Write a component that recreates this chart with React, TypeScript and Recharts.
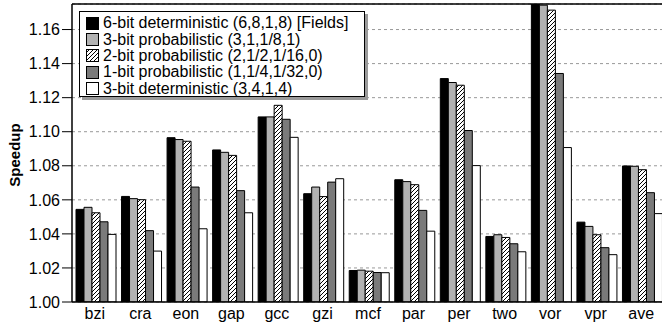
import React from 'react';
import { Bar, BarChart, CartesianGrid, ReferenceLine, XAxis, YAxis } from 'recharts';

const benchmarks = ['bzi', 'cra', 'eon', 'gap', 'gcc', 'gzi', 'mcf', 'par', 'per', 'two', 'vor', 'vpr', 'ave'];

const det6 = [1.0544, 1.062, 1.0965, 1.0893, 1.1087, 1.0636, 1.0185, 1.0718, 1.1312, 1.0385, 1.18, 1.0469, 1.0799];
const prob3 = [1.0556, 1.0607, 1.0954, 1.0879, 1.1087, 1.0675, 1.0187, 1.0707, 1.1289, 1.0395, 1.1743, 1.0444, 1.0797];
const prob2 = [1.0524, 1.0601, 1.0944, 1.0861, 1.1155, 1.0619, 1.0181, 1.0689, 1.1273, 1.0379, 1.1714, 1.0395, 1.0777];
const prob1 = [1.0471, 1.0419, 1.0675, 1.0654, 1.1073, 1.0704, 1.0173, 1.0538, 1.1007, 1.0342, 1.1342, 1.0319, 1.0642];
const det3 = [1.0397, 1.0299, 1.043, 1.0524, 1.0967, 1.0724, 1.0172, 1.0416, 1.0801, 1.0295, 1.0907, 1.0278, 1.0519];

const yTicks = [1.0, 1.02, 1.04, 1.06, 1.08, 1.1, 1.12, 1.14, 1.16];

const seriesInfo = [
  { key: 'det6', name: '6-bit deterministic (6,8,1,8) [Fields]', fill: '#000000' },
  { key: 'prob3', name: '3-bit probabilistic (3,1,1/8,1)', fill: '#b2b2b2' },
  { key: 'prob2', name: '2-bit probabilistic (2,1/2,1/16,0)', fill: 'url(#hatch)' },
  { key: 'prob1', name: '1-bit probabilistic (1,1/4,1/32,0)', fill: '#7a7a7a' },
  { key: 'det3', name: '3-bit deterministic (3,4,1,4)', fill: '#ffffff' },
];

const data = benchmarks.map((b, i) => ({
  name: b,
  det6: det6[i],
  prob3: prob3[i],
  prob2: prob2[i],
  prob1: prob1[i],
  det3: det3[i],
}));

const font = '"Liberation Sans", Arial, Helvetica, sans-serif';

const Swatch = ({ fill }: { fill: string }) => (
  <svg width={13} height={13} style={{ marginRight: 4, flexShrink: 0 }}>
    <defs>
      <pattern id="hatchLegend" patternUnits="userSpaceOnUse" width={4} height={4}>
        <rect width={4} height={4} fill="#fff" />
        <path d="M-1,1 l2,-2 M0,4 l4,-4 M3,5 l2,-2" stroke="#000" strokeWidth={1} />
      </pattern>
    </defs>
    <rect x={0.5} y={0.5} width={12} height={12} fill={fill === 'url(#hatch)' ? 'url(#hatchLegend)' : fill} stroke="#000" />
  </svg>
);

export default function App() {
  return (
    <div style={{ position: 'absolute', left: 0, top: 0, width: 662, height: 324, overflow: 'hidden', background: '#fff' }}>
      <BarChart
        width={664}
        height={324}
        data={data}
        margin={{ top: 4, right: 0, bottom: 0, left: 0 }}
        barCategoryGap={4}
        barGap={0}
      >
        <defs>
          <pattern id="hatch" patternUnits="userSpaceOnUse" width={4} height={4}>
            <rect width={4} height={4} fill="#fff" />
            <path d="M-1,1 l2,-2 M0,4 l4,-4 M3,5 l2,-2" stroke="#000" strokeWidth={1} />
          </pattern>
        </defs>
        <CartesianGrid vertical={false} stroke="#999" strokeDasharray="3 3" />
        <XAxis
          dataKey="name"
          height={22}
          tickLine={false}
          tickSize={4}
          axisLine={{ stroke: '#000', strokeWidth: 1.5 }}
          tick={{ fill: '#000', fontSize: 16, fontFamily: font }}
          interval={0}
        />
        <YAxis
          width={72}
          domain={[1.0, 1.175]}
          allowDataOverflow
          ticks={yTicks}
          tickFormatter={(v: number) => v.toFixed(2)}
          tickSize={10}
          tickMargin={2}
          tickLine={{ stroke: '#000' }}
          axisLine={{ stroke: '#000', strokeWidth: 1.5 }}
          tick={{ fill: '#000', fontSize: 16, fontFamily: font }}
          label={{
            content: () => (
              <text
                x={14}
                y={155}
                transform="rotate(-90 14 155)"
                textAnchor="middle"
                dominantBaseline="central"
                fontFamily={font}
                fontSize={15}
                fontWeight="bold"
                fill="#000"
              >
                Speedup
              </text>
            ),
          }}
        />
        <ReferenceLine y={1.175} stroke="#000" strokeWidth={1.5} />
        {seriesInfo.map((s) => (
          <Bar
            key={s.key}
            dataKey={s.key}
            name={s.name}
            fill={s.fill}
            stroke="#000"
            strokeWidth={1}
            isAnimationActive={false}
          />
        ))}
      </BarChart>
      <div
        style={{
          position: 'absolute',
          left: 79,
          top: 11,
          width: 286,
          height: 86,
          border: '1px solid #000',
          background: '#fff',
          boxShadow: '3px 3px 0 #9a9a9a',
          boxSizing: 'border-box',
          padding: '3px 0 0 6px',
          fontFamily: font,
          fontSize: 16,
          color: '#000',
        }}
      >
        {seriesInfo.map((s) => (
          <div key={s.key} style={{ display: 'flex', alignItems: 'center', height: 16.4, whiteSpace: 'nowrap' }}>
            <Swatch fill={s.fill} />
            <span>{s.name}</span>
          </div>
        ))}
      </div>
    </div>
  );
}
